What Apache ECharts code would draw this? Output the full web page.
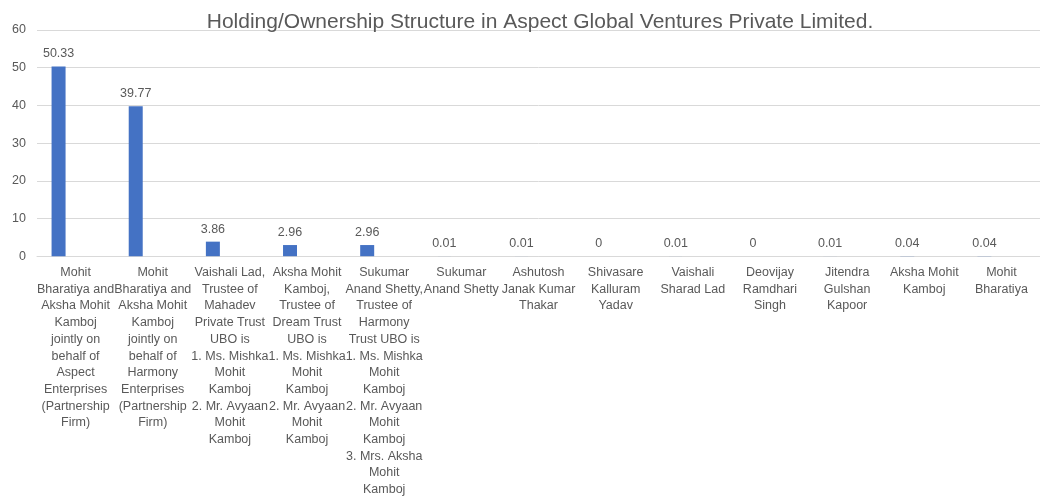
<!DOCTYPE html>
<html>
<head>
<meta charset="utf-8">
<script src="https://cdn.jsdelivr.net/npm/echarts@6/dist/echarts.min.js"></script>
<style>
  html, body { margin: 0; padding: 0; background: #fff; }
  #chart { width: 1040px; height: 498px; }
</style>
</head>
<body>
<div id="chart"></div>
<script>
// holders (label text wrapped the way the original chart wraps it)
const holders = [
  'Mohit\nBharatiya and\nAksha Mohit\nKamboj\njointly on\nbehalf of\nAspect\nEnterprises\n(Partnership\nFirm)',
  'Mohit\nBharatiya and\nAksha Mohit\nKamboj\njointly on\nbehalf of\nHarmony\nEnterprises\n(Partnership\nFirm)',
  'Vaishali Lad,\nTrustee of\nMahadev\nPrivate Trust\nUBO is\n1. Ms. Mishka\nMohit\nKamboj\n2. Mr. Avyaan\nMohit\nKamboj',
  'Aksha Mohit\nKamboj,\nTrustee of\nDream Trust\nUBO is\n1. Ms. Mishka\nMohit\nKamboj\n2. Mr. Avyaan\nMohit\nKamboj',
  'Sukumar\nAnand Shetty,\nTrustee of\nHarmony\nTrust UBO is\n1. Ms. Mishka\nMohit\nKamboj\n2. Mr. Avyaan\nMohit\nKamboj\n3. Mrs. Aksha\nMohit\nKamboj',
  'Sukumar\nAnand Shetty',
  'Ashutosh\nJanak Kumar\nThakar',
  'Shivasare\nKalluram\nYadav',
  'Vaishali\nSharad Lad',
  'Deovijay\nRamdhari\nSingh',
  'Jitendra\nGulshan\nKapoor',
  'Aksha Mohit\nKamboj',
  'Mohit\nBharatiya'
]

// % holding
const holding = [50.33, 39.77, 3.86, 2.96, 2.96, 0.01, 0.01, 0, 0.01, 0, 0.01, 0.04, 0.04]

const yTicks = [0, 10, 20, 30, 40, 50, 60]

const font = "'Liberation Sans', 'Noto Sans', sans-serif"
const textGrey = '#595959'

const myChart = echarts.init(document.querySelector('#chart'))
const option = {
  animation: false,
  textStyle: { fontFamily: font },
  title: {
    text: 'Holding/Ownership Structure in Aspect Global Ventures Private Limited.',
    left: 535,
    textAlign: 'center',
    top: 7,
    textStyle: {
      fontFamily: font,
      fontSize: 21,
      fontWeight: 'normal',
      color: textGrey
    }
  },
  grid: {
    left: 37,
    top: 30,
    width: 1014,
    height: 227
  },
  xAxis: {
    type: 'category',
    data: holders,
    axisLine: { lineStyle: { color: '#d9d9d9' } },
    axisTick: { show: false },
    axisLabel: {
      interval: 0,
      color: textGrey,
      fontSize: 12.5,
      lineHeight: 16.7,
      margin: 8,
      verticalAlign: 'top'
    }
  },
  yAxis: {
    type: 'value',
    min: yTicks[0],
    max: yTicks[yTicks.length - 1],
    interval: 10,
    axisLine: { show: false },
    axisTick: { show: false },
    axisLabel: { color: textGrey, fontSize: 12.5, margin: 11 },
    splitLine: { lineStyle: { color: '#d9d9d9' } }
  },
  series: [
    {
      name: 'Holding',
      type: 'bar',
      data: holding,
      barWidth: 14,
      barGap: '143%',
      itemStyle: { color: '#4472c4' },
      label: {
        show: true,
        position: 'top',
        distance: 6,
        color: textGrey,
        fontSize: 12.5
      }
    },
    {
      // empty second column slot, as in the original clustered chart
      name: 'blank',
      type: 'bar',
      data: [],
      barWidth: 14
    }
  ]
}
myChart.setOption(option)
</script>
</body>
</html>
